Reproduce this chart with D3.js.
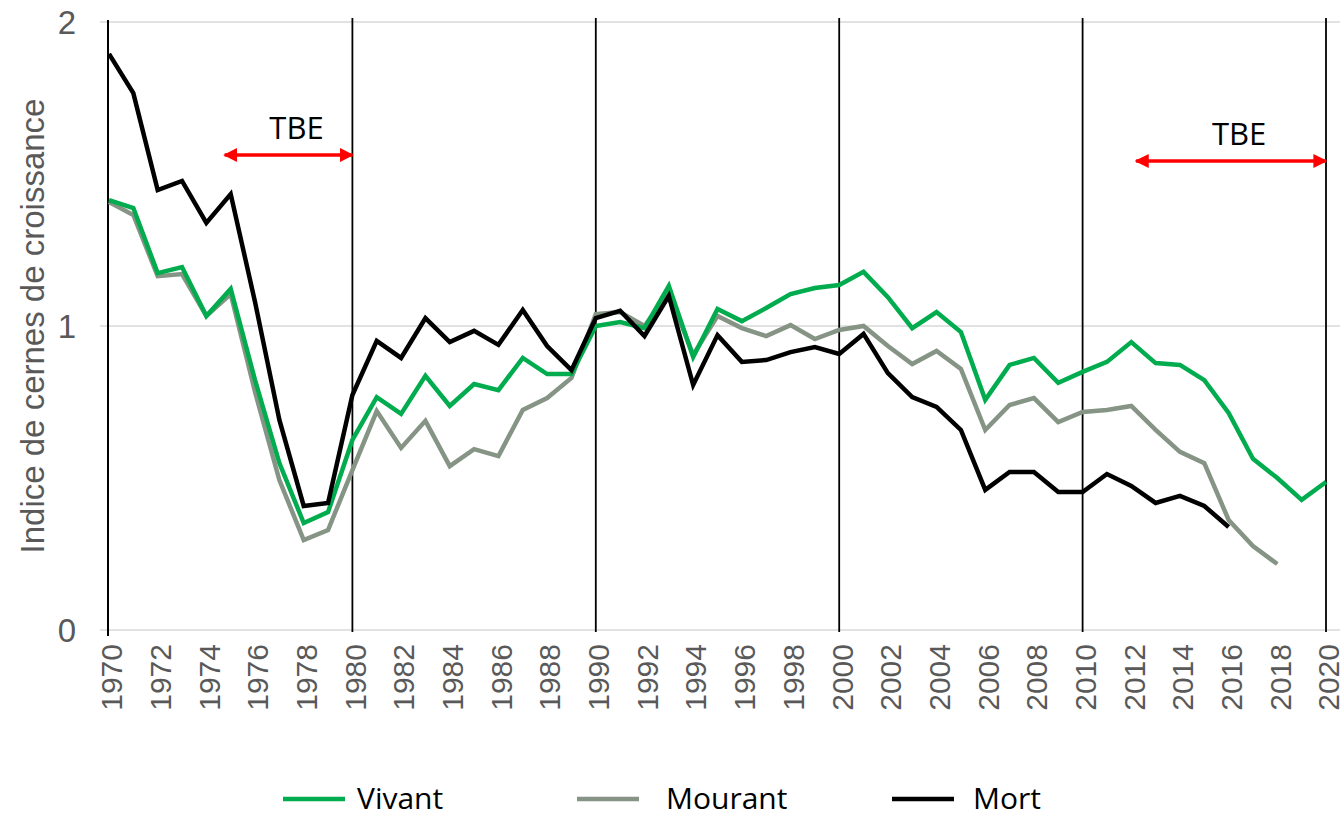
<!DOCTYPE html>
<html>
<head>
<meta charset="utf-8">
<script src="https://cdn.jsdelivr.net/npm/d3@7"></script>
<style>
  body { margin: 0; background: #fff; }
  svg { display: block; }
</style>
</head>
<body>
<svg width="1344" height="817"></svg>
<script>
var years = d3.range(1970, 2021);

var vivant = [1.414, 1.388, 1.174, 1.194, 1.033, 1.122, 0.822, 0.549, 0.352, 0.388,
  0.625, 0.766, 0.711, 0.836, 0.737, 0.809, 0.789, 0.895, 0.842, 0.842,
  1.000, 1.013, 0.993, 1.132, 0.898, 1.056, 1.016, 1.059, 1.105, 1.125,
  1.135, 1.178, 1.095, 0.993, 1.046, 0.980, 0.757, 0.872, 0.895, 0.813,
  0.849, 0.882, 0.947, 0.878, 0.872, 0.822, 0.714, 0.563, 0.500, 0.428, 0.487];

var mourant = [1.408, 1.365, 1.164, 1.171, 1.033, 1.105, 0.783, 0.493, 0.296, 0.329,
  0.526, 0.720, 0.599, 0.688, 0.539, 0.595, 0.572, 0.724, 0.763, 0.829,
  1.039, 1.046, 1.000, 1.109, 0.905, 1.033, 0.993, 0.967, 1.003, 0.957,
  0.987, 1.000, 0.934, 0.875, 0.918, 0.859, 0.658, 0.740, 0.763, 0.684,
  0.717, 0.724, 0.737, 0.658, 0.586, 0.549, 0.362, 0.276, 0.217];

var mort = [1.895, 1.766, 1.447, 1.477, 1.339, 1.434, 1.079, 0.691, 0.408, 0.418,
  0.773, 0.951, 0.895, 1.026, 0.947, 0.984, 0.938, 1.053, 0.934, 0.855,
  1.026, 1.050, 0.967, 1.099, 0.806, 0.970, 0.882, 0.888, 0.914, 0.931,
  0.908, 0.974, 0.845, 0.766, 0.734, 0.658, 0.461, 0.520, 0.520, 0.454,
  0.454, 0.513, 0.474, 0.418, 0.441, 0.408, 0.339];

var seriesNames = ['Vivant', 'Mourant', 'Mort'];
var seriesColors = ['#00ac4e', '#859485', '#000000'];
var yTicks = [0, 1, 2];
var decadeLines = [1980, 1990, 2000, 2010, 2020];
var tbeStart = [1974.75, 2012.2];
var tbeEnd = [1980, 2020];

var svg = d3.select('svg');

var x = d3.scaleLinear().domain([1970, 2020]).range([109, 1326]);
var y = d3.scaleLinear().domain([0, 2]).range([630, 22]);

// gridlines
svg.append('g')
  .selectAll('line')
  .data(yTicks)
  .enter()
  .append('line')
  .attr('x1', 100)
  .attr('x2', 1340)
  .attr('y1', function(d) { return y(d); })
  .attr('y2', function(d) { return y(d); })
  .attr('stroke', '#d9d9d9')
  .attr('stroke-width', 1.5);

// y axis labels
svg.append('g')
  .selectAll('text')
  .data(yTicks)
  .enter()
  .append('text')
  .attr('x', 76)
  .attr('y', function(d) { return y(d) + 12; })
  .attr('text-anchor', 'end')
  .attr('font-family', 'Liberation Sans, Arial, sans-serif')
  .attr('font-size', 33)
  .attr('fill', '#595959')
  .text(function(d) { return d; });

svg.append('text')
  .attr('transform', 'translate(44,' + 326 + ') rotate(-90)')
  .attr('text-anchor', 'middle')
  .attr('font-family', 'Liberation Sans, Arial, sans-serif')
  .attr('font-size', 33)
  .attr('fill', '#595959')
  .text('Indice de cernes de croissance');

// left axis line
svg.append('line')
  .attr('x1', 108).attr('x2', 108)
  .attr('y1', 20).attr('y2', 636)
  .attr('stroke', '#000').attr('stroke-width', 2);

// decade lines
svg.append('g')
  .selectAll('line')
  .data(decadeLines)
  .enter()
  .append('line')
  .attr('x1', function(d) { return x(d); })
  .attr('x2', function(d) { return x(d); })
  .attr('y1', 18)
  .attr('y2', 632)
  .attr('stroke', '#000')
  .attr('stroke-width', 1.8);

// x tick labels
var xAxis = d3.axisBottom(x)
  .tickValues(years.filter(function(d) { return d % 2 === 0; }))
  .tickFormat(d3.format('d'))
  .tickSize(0);

var gx = svg.append('g')
  .attr('transform', 'translate(0,' + 630 + ')')
  .call(xAxis);
gx.select('.domain').remove();
gx.selectAll('text')
  .attr('font-family', 'Liberation Sans, Arial, sans-serif')
  .attr('font-size', 30)
  .attr('fill', '#595959')
  .attr('transform', 'rotate(-90)')
  .attr('text-anchor', 'end')
  .attr('x', -14)
  .attr('y', 2)
  .attr('dy', '0.36em');

// series lines
var line = d3.line()
  .x(function(d, i) { return x(years[i]); })
  .y(function(d) { return y(d); });

var seriesData = [vivant, mourant, mort];
svg.append('g')
  .selectAll('path')
  .data([mourant, vivant, mort])
  .enter()
  .append('path')
  .attr('d', line)
  .attr('fill', 'none')
  .attr('stroke', function(d) { return seriesColors[seriesData.indexOf(d)]; })
  .attr('stroke-width', 4.5)
  .attr('stroke-linejoin', 'miter');

// TBE arrows
var defs = svg.append('defs');
defs.append('marker')
  .attr('id', 'arrowEnd')
  .attr('viewBox', '0 0 10 10')
  .attr('refX', 9).attr('refY', 5)
  .attr('markerWidth', 4).attr('markerHeight', 4)
  .attr('markerUnits', 'strokeWidth')
  .attr('orient', 'auto-start-reverse')
  .append('path')
  .attr('d', 'M0,0 L10,5 L0,10 z')
  .attr('fill', '#ff0000');

var tbeY = [155, 161];
var tbe = svg.append('g');
tbe.selectAll('line')
  .data(tbeStart)
  .enter()
  .append('line')
  .attr('x1', function(d) { return x(d); })
  .attr('x2', function(d, i) { return x(tbeEnd[i]); })
  .attr('y1', function(d, i) { return tbeY[i]; })
  .attr('y2', function(d, i) { return tbeY[i]; })
  .attr('stroke', '#ff0000')
  .attr('stroke-width', 3.5)
  .attr('marker-start', 'url(#arrowEnd)')
  .attr('marker-end', 'url(#arrowEnd)');

tbe.selectAll('text')
  .data(tbeStart)
  .enter()
  .append('text')
  .attr('x', function(d, i) { return (x(d) + x(tbeEnd[i])) / 2 + 8; })
  .attr('y', function(d, i) { return tbeY[i] - 16; })
  .attr('text-anchor', 'middle')
  .attr('font-family', 'Open Sans, Liberation Sans, sans-serif')
  .attr('font-size', 31)
  .attr('fill', '#000')
  .text('TBE');

// legend
var legendX = [283, 577, 892];
var legendTextX = [74, 89, 81];
var legend = svg.append('g')
  .selectAll('g')
  .data(seriesNames)
  .enter()
  .append('g')
  .attr('transform', function(d, i) { return 'translate(' + legendX[i] + ',' + 799 + ')'; });

legend.append('line')
  .attr('x1', 0).attr('x2', 62)
  .attr('y1', 0).attr('y2', 0)
  .attr('stroke', function(d, i) { return seriesColors[i]; })
  .attr('stroke-width', 4.5);

legend.append('text')
  .attr('x', function(d, i) { return legendTextX[i]; })
  .attr('y', 10)
  .attr('font-family', 'Open Sans, Liberation Sans, sans-serif')
  .attr('font-size', 30)
  .attr('fill', '#000')
  .text(function(d) { return d; });
</script>
</body>
</html>
